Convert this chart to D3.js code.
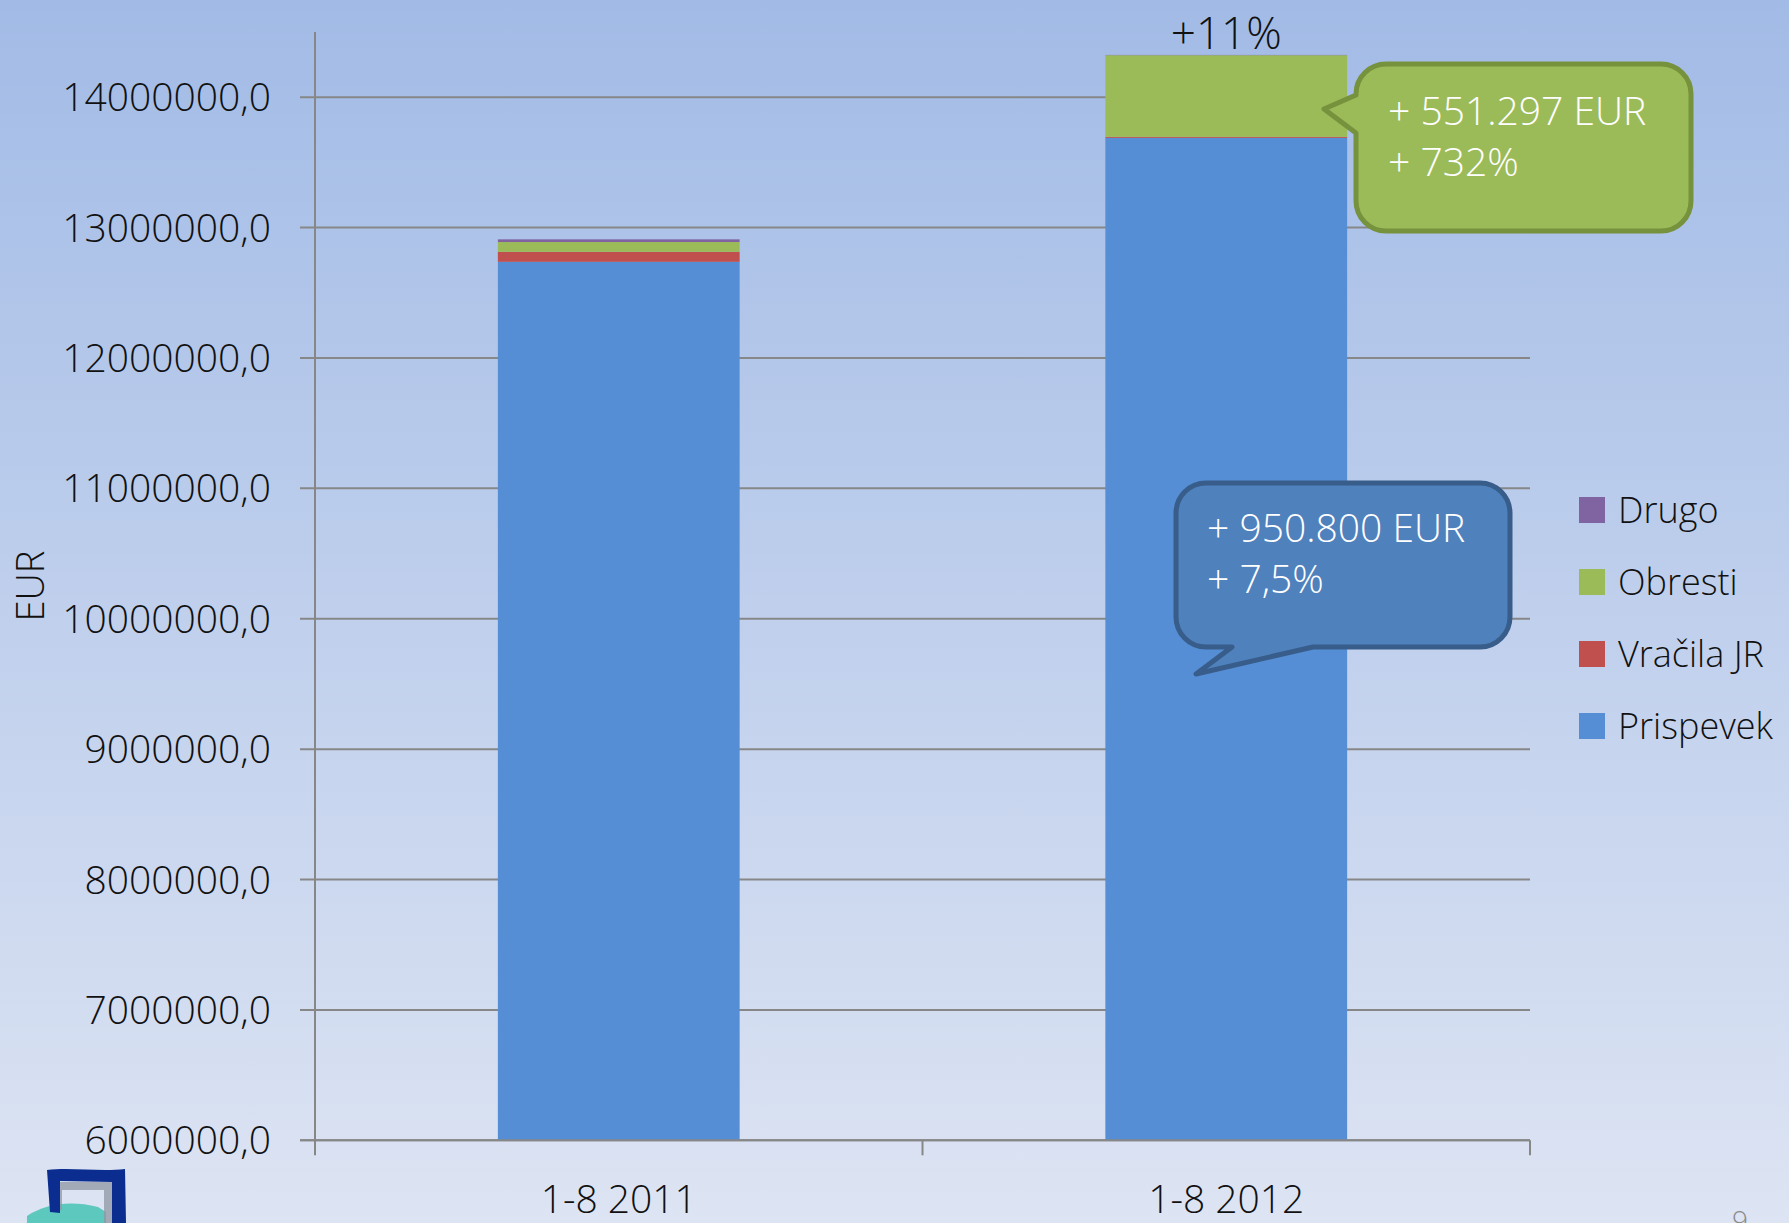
<!DOCTYPE html>
<html>
<head>
<meta charset="utf-8">
<script src="https://cdn.jsdelivr.net/npm/d3@7/dist/d3.min.js"></script>
<style>
  html, body { margin: 0; padding: 0; }
  body { width: 1789px; height: 1223px; overflow: hidden; }
  svg { display: block; }
  text { font-family: "Open Sans", "Segoe UI", sans-serif; font-weight: 300; }
</style>
</head>
<body>
<svg id="chart" width="1789" height="1223"></svg>
<script>
// ---- data ----
const categories = ["1-8 2011", "1-8 2012"];
const seriesNames = ["Prispevek", "Vračila JR", "Obresti", "Drugo"];
const prispevek = [12737200, 13688000];
const vracilaJR = [76700, 7700];
const obresti = [75300, 626600];
const drugo = [20700, 2000];
const yTicks = [6000000, 7000000, 8000000, 9000000, 10000000, 11000000, 12000000, 13000000, 14000000];
const totalChangeLabel = "+11%";
const obrestiCallout = ["+ 551.297 EUR", "+ 732%"];
const prispevekCallout = ["+ 950.800 EUR", "+ 7,5%"];
const yAxisTitle = "EUR";
const pageNumber = "9";

const colors = {
  "Prispevek": "#558ED5",
  "Vračila JR": "#C0504D",
  "Obresti": "#9BBB59",
  "Drugo": "#8064A2"
};

const svg = d3.select("#chart");
const W = 1789, H = 1223;

// background gradient
const defs = svg.append("defs");
const grad = defs.append("linearGradient").attr("id", "bg").attr("x1", 0).attr("y1", 0).attr("x2", 0).attr("y2", 1);
grad.append("stop").attr("offset", "0%").attr("stop-color", "#A2BBE6");
grad.append("stop").attr("offset", "100%").attr("stop-color", "#DDE4F3");
svg.append("rect").attr("width", W).attr("height", H).attr("fill", "url(#bg)");

// scales
const plot = { left: 315, right: 1530, top: 32, bottom: 1140.3 };
const x = d3.scaleBand().domain(categories).range([plot.left, plot.right]).padding(0);
const barW = x.bandwidth() * 0.398;
const y = d3.scaleLinear().domain([6000000, 14500000]).range([plot.bottom, plot.top]);

// gridlines
const gridColor = "#878787";
svg.append("g").selectAll("line").data(yTicks).join("line")
  .attr("x1", plot.left - 15).attr("x2", plot.right)
  .attr("y1", d => y(d)).attr("y2", d => y(d))
  .attr("stroke", gridColor).attr("stroke-width", 2);

// y axis line
svg.append("line").attr("x1", plot.left).attr("x2", plot.left)
  .attr("y1", plot.top).attr("y2", plot.bottom)
  .attr("stroke", gridColor).attr("stroke-width", 2);

// x axis tick marks at category boundaries
const xBounds = [plot.left, plot.left + x.step(), plot.right];
svg.append("g").selectAll("line").data(xBounds).join("line")
  .attr("x1", d => d).attr("x2", d => d)
  .attr("y1", plot.bottom).attr("y2", plot.bottom + 15)
  .attr("stroke", gridColor).attr("stroke-width", 2);

// y tick labels
const fmt = v => String(v) + ",0";
svg.append("g").selectAll("text").data(yTicks).join("text")
  .attr("x", 271).attr("y", d => y(d)).attr("dy", "0.36em")
  .attr("text-anchor", "end").attr("font-size", 39).attr("fill", "#111")
  .text(fmt);

// stacked bars
const rows = categories.map((c, i) => ({
  cat: c,
  "Prispevek": prispevek[i],
  "Vračila JR": vracilaJR[i],
  "Obresti": obresti[i],
  "Drugo": drugo[i]
}));
const stack = d3.stack().keys(seriesNames)(rows);
const base = y.domain()[0];
svg.append("g").selectAll("g").data(stack).join("g")
  .attr("fill", d => colors[d.key])
  .selectAll("rect").data(d => d).join("rect")
  .attr("x", d => x(d.data.cat) + (x.bandwidth() - barW) / 2)
  .attr("width", barW)
  .attr("y", d => y(d[1]))
  .attr("height", d => y(Math.max(d[0], base)) - y(d[1]));

// x axis baseline on top of bars
svg.append("line").attr("x1", plot.left - 15).attr("x2", plot.right)
  .attr("y1", plot.bottom).attr("y2", plot.bottom)
  .attr("stroke", gridColor).attr("stroke-width", 2);

// x labels
svg.append("g").selectAll("text").data(categories).join("text")
  .attr("x", d => x(d) + x.bandwidth() / 2).attr("y", 1213)
  .attr("text-anchor", "middle").attr("font-size", 39).attr("fill", "#111")
  .text(d => d);

// y axis title
svg.append("text").attr("transform", "translate(44,586) rotate(-90)")
  .attr("text-anchor", "middle").attr("font-size", 38).attr("fill", "#111")
  .text(yAxisTitle);

// +11% label above 2012 bar
const tot2012 = prispevek[1] + vracilaJR[1] + obresti[1] + drugo[1];
svg.append("text").attr("x", x(categories[1]) + x.bandwidth() / 2).attr("y", y(tot2012) - 6)
  .attr("text-anchor", "middle").attr("font-size", 44).attr("fill", "#111")
  .text(totalChangeLabel);

// callout helper
function arcTo(cx, cy, r) { return `A${r},${r} 0 0 1 ${cx},${cy}`; }

// green callout (tail on left)
{
  const x0 = 1356, x1 = 1691, y0 = 64, y1 = 231, r = 30;
  const p = `M${x0 + r},${y0} H${x1 - r} ${arcTo(x1, y0 + r, r)} V${y1 - r} ${arcTo(x1 - r, y1, r)} H${x0 + r} ${arcTo(x0, y1 - r, r)} V133 L1324,109 L${x0},95 V${y0 + r} ${arcTo(x0 + r, y0, r)} Z`;
  svg.append("path").attr("d", p).attr("fill", "#9BBB59").attr("stroke", "#76923C").attr("stroke-width", 5).attr("stroke-linejoin", "round");
  svg.append("text").attr("x", 1388).attr("y", 125).attr("font-size", 39).attr("fill", "#fff").text(obrestiCallout[0]);
  svg.append("text").attr("x", 1388).attr("y", 176).attr("font-size", 39).attr("fill", "#fff").text(obrestiCallout[1]);
}

// blue callout (tail at bottom)
{
  const x0 = 1176, x1 = 1510, y0 = 483, y1 = 647, r = 30;
  const p = `M${x0 + r},${y0} H${x1 - r} ${arcTo(x1, y0 + r, r)} V${y1 - r} ${arcTo(x1 - r, y1, r)} H1313 L1196,674 L1232,${y1} H${x0 + r} ${arcTo(x0, y1 - r, r)} V${y0 + r} ${arcTo(x0 + r, y0, r)} Z`;
  svg.append("path").attr("d", p).attr("fill", "#4F81BD").attr("stroke", "#385D8A").attr("stroke-width", 5).attr("stroke-linejoin", "round");
  svg.append("text").attr("x", 1207).attr("y", 542).attr("font-size", 39).attr("fill", "#fff").text(prispevekCallout[0]);
  svg.append("text").attr("x", 1207).attr("y", 593).attr("font-size", 39).attr("fill", "#fff").text(prispevekCallout[1]);
}

// legend
const legendOrder = seriesNames.slice().reverse();
const lg = svg.append("g").selectAll("g").data(legendOrder).join("g")
  .attr("transform", (d, i) => `translate(1579,${497 + i * 72})`);
lg.append("rect").attr("width", 26).attr("height", 26).attr("fill", d => colors[d]);
lg.append("text").attr("x", 39).attr("y", 26).attr("font-size", 36).attr("fill", "#111").text(d => d);

// logo (approximation)
const logo = svg.append("g");
logo.append("path").attr("d", "M27,1216 C45,1204 70,1200 98,1207 L106,1212 L106,1223 L27,1223 Z").attr("fill", "#5CC8BE");
logo.append("path").attr("d", "M60,1182 H112 V1223 H104 V1190 H62 V1210 H60 Z").attr("fill", "#8f97a3").attr("opacity", 0.75);
logo.append("path").attr("d", "M47,1170 C70,1167 100,1172 125,1169 L126,1223 L112,1223 L112,1182 L60,1181 L60,1213 L50,1212 Z").attr("fill", "#0B2D8F");

// page number
svg.append("text").attr("x", 1740).attr("y", 1231).attr("text-anchor", "middle")
  .attr("font-size", 28).attr("fill", "#8a8a8a").text(pageNumber);
</script>
</body>
</html>
